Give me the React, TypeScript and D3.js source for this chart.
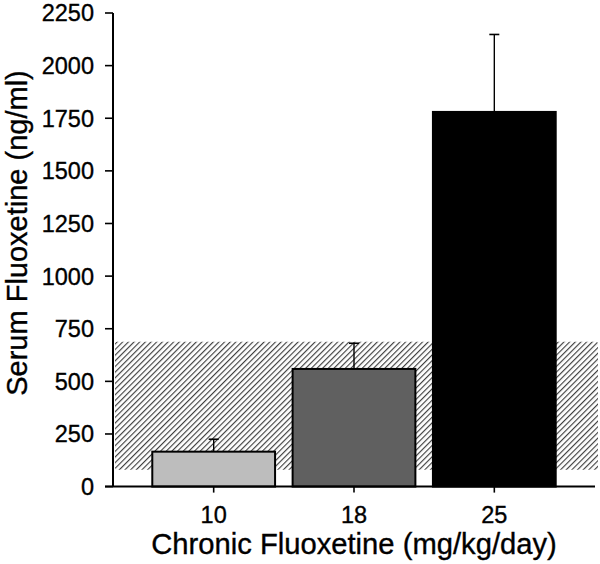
import React from "react";
import * as d3 from "d3";

const categories = ["10", "18", "25"];
const means = [166, 559, 1780];
const errors = [59, 122, 368];
const barColors = ["#bdbdbd", "#606060", "#000000"];
const yTicks = [0, 250, 500, 750, 1000, 1250, 1500, 1750, 2000, 2250];
const bandRange = [80, 688];
const yLabel = "Serum Fluoxetine (ng/ml)";
const xLabel = "Chronic Fluoxetine (mg/kg/day)";

export default function App() {
  const W = 600, H = 564;
  const axisX = 113, axisRight = 595;
  const y = d3.scaleLinear().domain([0, 2250]).range([486.6, 13]);
  const x = d3.scaleBand<string>().domain(categories).range([axisX, axisRight]).paddingInner(0.125).paddingOuter(0.28);
  const font = "Arial, 'Liberation Sans', Helvetica, sans-serif";
  const ts = { stroke: "#000", strokeWidth: 0.35 };
  return (
    <svg width={W} height={H} style={{ position: "absolute", left: 0, top: 0, background: "#fff" }} fontFamily={font}>
      <defs>
        <pattern id="hatch" patternUnits="userSpaceOnUse" width="4" height="4" patternTransform="rotate(45)">
          <rect width="4" height="4" fill="#ffffff" />
          <line x1="0" y1="0" x2="0" y2="4" stroke="#404040" strokeWidth="2.3" />
        </pattern>
      </defs>
      <rect width={W} height={H} fill="#fff" />
      {/* hatched band */}
      <rect x={115} y={y(bandRange[1])} width={598 - 115} height={y(bandRange[0]) - y(bandRange[1])} fill="url(#hatch)" rx={2} />
      {/* bars */}
      {categories.map((c, i) => {
        const bx = x(c)!;
        const bw = x.bandwidth();
        const cx = bx + bw / 2;
        return (
          <g key={c}>
            <line x1={cx} x2={cx} y1={y(means[i])} y2={y(means[i] + errors[i])} stroke="#000" strokeWidth={1.4} />
            <line x1={cx - 5} x2={cx + 5} y1={y(means[i] + errors[i])} y2={y(means[i] + errors[i])} stroke="#000" strokeWidth={1.6} />
            <rect x={bx} y={y(means[i])} width={bw} height={y(0) - y(means[i])} fill={barColors[i]} stroke="#000" strokeWidth={2} />
          </g>
        );
      })}
      {/* y axis */}
      <line x1={axisX} x2={axisX} y1={y(2250)} y2={y(0)} stroke="#000" strokeWidth={2} />
      {yTicks.map((t) => (
        <g key={t}>
          <line x1={105} x2={axisX} y1={y(t)} y2={y(t)} stroke="#000" strokeWidth={1.6} />
          <text x={94} y={y(t)} dy="0.36em" textAnchor="end" fontSize={23.5} fill="#000" {...ts}>{t}</text>
        </g>
      ))}
      {/* x axis */}
      <line x1={105} x2={axisRight} y1={y(0)} y2={y(0)} stroke="#000" strokeWidth={2} />
      {categories.map((c) => {
        const cx = x(c)! + x.bandwidth() / 2;
        return (
          <g key={c}>
            <line x1={cx} x2={cx} y1={y(0)} y2={y(0) + 6} stroke="#000" strokeWidth={1.6} />
            <text x={cx} y={523} textAnchor="middle" fontSize={23.5} fill="#000" {...ts}>{c}</text>
          </g>
        );
      })}
      <text x={354} y={554} textAnchor="middle" fontSize={29.2} fill="#000" {...ts}>{xLabel}</text>
      <text transform={`translate(27,233) rotate(-90)`} textAnchor="middle" fontSize={29} fill="#000" {...ts}>{yLabel}</text>
    </svg>
  );
}
